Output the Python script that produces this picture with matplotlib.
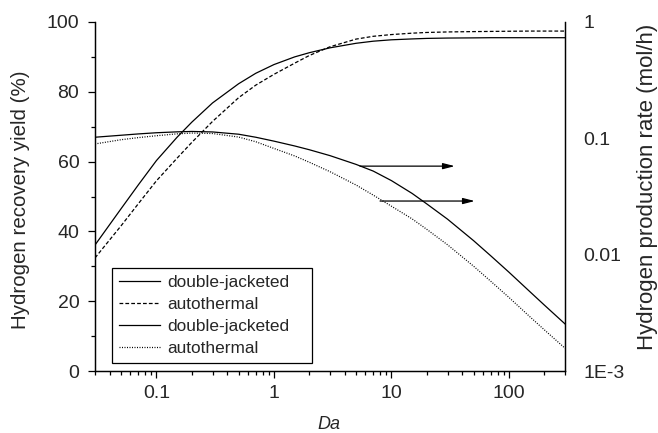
import matplotlib
matplotlib.use("Agg")
import matplotlib.pyplot as plt
from matplotlib.ticker import (FixedLocator, FixedFormatter, LogLocator,
                               NullLocator, NullFormatter, MultipleLocator)

plt.rcParams['font.family'] = ['Liberation Sans', 'DejaVu Sans']

# Damkoehler number samples
da = [0.03, 0.05, 0.07, 0.1, 0.15, 0.2, 0.3, 0.5, 0.7, 1, 1.5, 2, 3, 5, 7,
      10, 15, 20, 30, 50, 70, 100, 150, 200, 300]

# Hydrogen recovery yield (%)
yield_dj = [36.1, 46.5, 53.3, 60.3, 67.0, 71.3, 76.8, 82.3, 85.3, 87.8, 90.0,
            91.2, 92.6, 93.9, 94.5, 94.9, 95.15, 95.3, 95.4, 95.45, 95.5, 95.5,
            95.5, 95.5, 95.5]
yield_at = [32.4, 41.6, 47.9, 54.5, 61.0, 65.5, 71.5, 78.3, 81.9, 85.0, 88.2,
            90.4, 92.9, 95.1, 95.9, 96.4, 96.8, 97.0, 97.15, 97.25, 97.3,
            97.35, 97.4, 97.4, 97.4]

# Hydrogen production rate (mol/h)
rate_dj = [0.1022, 0.1063, 0.1091, 0.1117, 0.1137, 0.1146, 0.1135, 0.1085,
           0.1022, 0.0946, 0.0860, 0.0798, 0.0710, 0.0597, 0.0523, 0.0433,
           0.0336, 0.0273, 0.0202, 0.0132, 0.00978, 0.00707, 0.00483,
           0.00369, 0.00254]
rate_at = [0.0895, 0.0973, 0.1014, 0.1053, 0.1093, 0.1110, 0.1100, 0.1026,
           0.0935, 0.0819, 0.0706, 0.0623, 0.0517, 0.0397, 0.0325, 0.0261,
           0.0203, 0.0165, 0.01217, 0.00796, 0.00591, 0.00429, 0.00294,
           0.00226, 0.00157]

labels = ['double-jacketed', 'autothermal', 'double-jacketed', 'autothermal']
x_ticks = [0.1, 1, 10, 100]
x_ticklabels = ['0.1', '1', '10', '100']
rate_ticks = [1e-3, 1e-2, 1e-1, 1]
rate_ticklabels = ['1E-3', '0.01', '0.1', '1']

# arrows from the production-rate curves towards the right-hand axis
arrow_tails = [(5.4, 58.7), (8.0, 48.7)]
arrow_heads = [(34.6, 58.7), (51.2, 48.7)]

TXT = '#262626'
LW = 0.9
W, H = 658, 433

fig = plt.figure(figsize=(W / 100, H / 100), dpi=100)
ax = fig.add_axes([95 / W, 1 - 371 / H, 470 / W, 349 / H])
ax2 = ax.twinx()

l1, = ax.plot(da, yield_dj, color='k', lw=LW, ls='-')
l2, = ax.plot(da, yield_at, color='k', lw=LW, ls=(0, (3.0, 1.7)))
l3, = ax2.plot(da, rate_dj, color='k', lw=LW, ls='-')
l4, = ax2.plot(da, rate_at, color='k', lw=LW, ls=(0, (0.8, 1.2)))

ax.set_xscale('log')
ax.set_xlim(0.03, 300)
ax.set_ylim(0, 100)
ax2.set_yscale('log')
ax2.set_ylim(1e-3, 1)

for a in (ax, ax2):
    a.spines['top'].set_visible(False)
    for s in a.spines.values():
        s.set_linewidth(0.9)

ax.xaxis.set_major_locator(FixedLocator(x_ticks))
ax.xaxis.set_major_formatter(FixedFormatter(x_ticklabels))
ax.xaxis.set_minor_locator(LogLocator(base=10, subs=range(2, 10), numticks=20))
ax.xaxis.set_minor_formatter(NullFormatter())
ax.yaxis.set_major_locator(MultipleLocator(20))
ax.yaxis.set_minor_locator(MultipleLocator(10))

ax.tick_params(axis='both', which='major', direction='out', length=5.3,
               width=0.9, labelcolor=TXT, labelsize=14)
ax.tick_params(axis='both', which='minor', direction='out', length=3.0,
               width=0.9)
ax.tick_params(axis='x', which='major', pad=5)
ax.tick_params(axis='y', which='major', pad=6)
ax.tick_params(axis='y', which='both', right=False)

ax2.yaxis.set_major_locator(FixedLocator(rate_ticks))
ax2.yaxis.set_major_formatter(FixedFormatter(rate_ticklabels))
ax2.yaxis.set_minor_locator(NullLocator())
ax2.tick_params(axis='y', which='major', length=0, pad=13, labelcolor=TXT,
                labelsize=14)

ax.set_xlabel('Da', fontsize=13, style='italic', color=TXT)
ax.xaxis.set_label_coords((329 - 95) / 470, (371 - 429) / 349)
ax.xaxis.label.set_va('baseline')

ax.set_ylabel('Hydrogen recovery yield (%)', fontsize=14.8, color=TXT)
ax.yaxis.label.set(ha='center', va='center', rotation_mode='anchor')
ax.yaxis.set_label_coords((21 - 95) / 470, (371 - 200) / 349)

ax2.set_ylabel('Hydrogen production rate (mol/h)', fontsize=16, color=TXT,
               rotation=90)
ax2.yaxis.label.set(ha='center', va='center', rotation_mode='anchor')
ax2.yaxis.set_label_coords((647 - 95) / 470, (371 - 187) / 349)

arrow_kw = dict(arrowstyle='-|>,head_length=0.7,head_width=0.18', color='k',
                lw=LW, shrinkA=0, shrinkB=0, mutation_scale=10)
for tail, head in zip(arrow_tails, arrow_heads):
    ax.annotate('', xy=head, xytext=tail, arrowprops=arrow_kw)

leg = ax2.legend([l1, l2, l3, l4], labels, loc='lower left', mode='expand',
                 bbox_to_anchor=(17 / 470, 8 / 349, 200 / 470, 0.3),
                 borderaxespad=0, fontsize=12.4, frameon=True, fancybox=False,
                 edgecolor='k', framealpha=1, handlelength=2.33,
                 handletextpad=0.47, labelspacing=0.39, borderpad=0.43)
leg.get_frame().set_linewidth(0.9)
for t in leg.get_texts():
    t.set_color(TXT)

fig.savefig('out.png', dpi=100)
